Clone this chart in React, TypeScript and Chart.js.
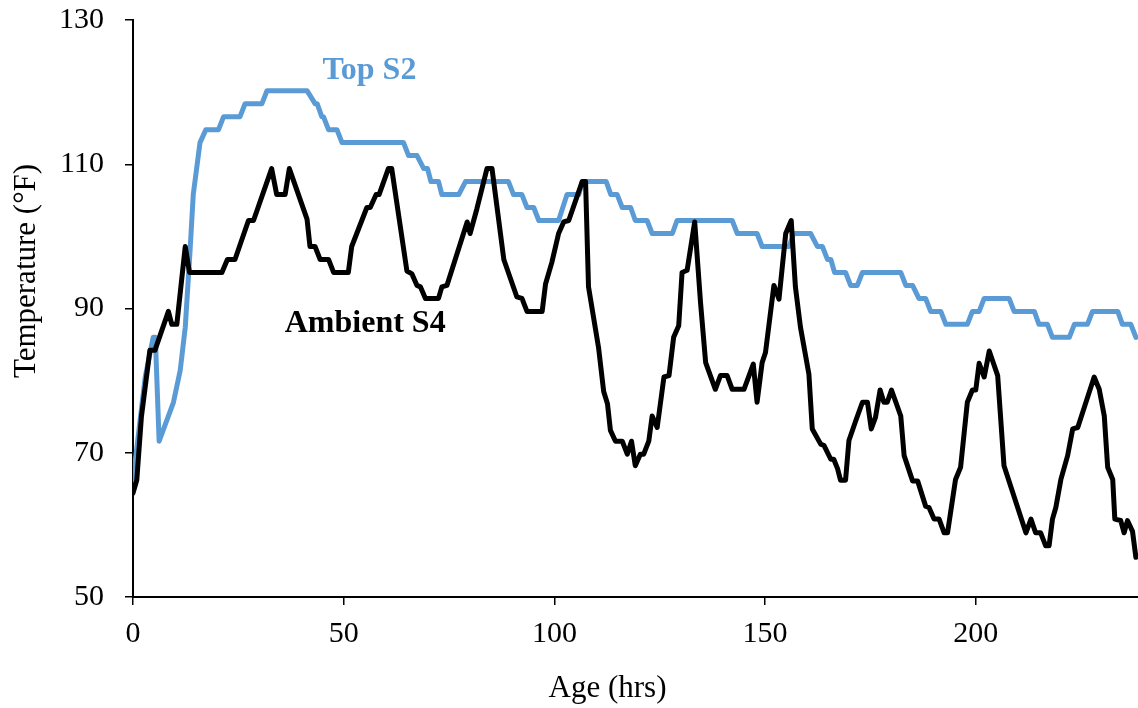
import React, { useEffect, useRef } from "react";
import { Chart, registerables } from "chart.js";

Chart.register(...registerables);

// ---- Data ----
const topAge = [
  0, 2.9, 4.8, 5.3, 6.2, 9.6, 11.2, 12.4, 13.5, 14.3, 15.9, 17.3, 20.3, 21.5, 25.4, 26.6, 30.6, 31.8,
  41.3, 43.2, 43.7, 44.8, 45.2, 46.4, 48.4, 49.6, 64.2, 65.4, 67.4, 69.0, 69.9, 70.7, 72.5, 73.3,
  77.3, 78.9, 89.1, 90.3, 92.3, 93.5, 95.1, 96.3, 101.0, 103.0, 105.8, 106.6, 112.3, 113.4, 114.9,
  116.1, 118.1, 119.2, 122.0, 123.2, 128.0, 129.1, 142.2, 143.4, 148.1, 149.3, 155.7, 156.8, 160.8,
  162.4, 163.6, 164.8, 165.6, 166.5, 169.1, 170.3, 171.9, 173.1, 182.2, 183.4, 185.0, 186.5, 188.1,
  189.3, 191.7, 192.9, 198.0, 199.2, 200.8, 202.0, 207.9, 209.1, 213.9, 215.0, 217.0, 218.2, 222.2,
  223.4, 226.5, 227.7, 233.7, 234.8, 236.8, 238.0,
];
const topTemp = [
  66.2, 80.5, 86.0, 86.0, 71.6, 77.0, 81.4, 87.4, 97.6, 105.8, 113.0, 114.8, 114.8, 116.6, 116.6, 118.4, 118.4, 120.2,
  120.2, 118.4, 118.4, 116.6, 116.6, 114.8, 114.8, 113.0, 113.0, 111.2, 111.2, 109.4, 109.4, 107.6, 107.6, 105.8,
  105.8, 107.6, 107.6, 105.8, 105.8, 104.0, 104.0, 102.2, 102.2, 105.8, 105.8, 107.6, 107.6, 105.8, 105.8,
  104.0, 104.0, 102.2, 102.2, 100.4, 100.4, 102.2, 102.2, 100.4, 100.4, 98.6, 98.6, 100.4, 100.4,
  98.6, 98.6, 96.8, 96.8, 95.0, 95.0, 93.2, 93.2, 95.0, 95.0, 93.2, 93.2, 91.4, 91.4,
  89.6, 89.6, 87.8, 87.8, 89.6, 89.6, 91.4, 91.4, 89.6, 89.6, 87.8, 87.8, 86.0, 86.0,
  87.8, 87.8, 89.6, 89.6, 87.8, 87.8, 86.0,
];

const ambientAge = [
  0, 0.9, 2.0, 4.0, 5.2, 8.4, 9.2, 10.4, 12.4, 13.4, 21.1, 22.4, 24.2, 27.4, 28.6, 32.9, 34.1, 36.1,
  37.1, 41.3, 42.0, 43.2, 44.4, 46.4, 47.6, 51.1, 51.9, 55.5, 56.3, 57.7, 58.4, 60.6, 61.4, 65.0,
  66.2, 67.4, 68.2, 69.4, 72.5, 73.3, 74.5, 79.3, 80.0, 81.6, 84.0, 85.2, 88.0, 91.1, 92.3, 93.5,
  97.1, 97.9, 99.4, 101.0, 102.2, 103.4, 106.6, 107.4, 108.1, 110.5, 111.7, 112.6, 113.3, 114.5,
  116.1, 117.3, 118.3, 119.2, 120.4, 121.2, 122.4, 123.2, 124.4, 126.0, 127.2, 128.3, 129.5, 130.3,
  131.5, 133.3, 134.7, 135.9, 138.2, 139.4, 141.0, 142.2, 145.0, 147.2, 148.1, 149.3, 150.1, 152.1,
  153.3, 154.9, 156.2, 157.2, 158.4, 160.4, 161.2, 163.2, 164.0, 165.6, 166.3, 167.2, 167.9, 169.1,
  169.9, 171.5, 173.1, 174.3, 175.2, 176.2, 177.3, 178.2, 179.0, 180.0, 182.2, 183.0, 185.0, 186.2,
  188.1, 188.9, 190.1, 191.3, 192.5, 193.3, 195.2, 196.4, 198.0, 199.2, 200.0, 200.8, 202.0, 203.2,
  205.2, 206.7, 211.9, 213.1, 214.2, 215.4, 216.6, 217.4, 218.2, 219.0, 220.2, 221.8, 223.0, 224.2,
  228.1, 229.3, 230.5, 231.3, 232.5, 233.0, 234.4, 235.2, 236.0, 237.2, 238.0,
];
const ambientTemp = [
  64.4, 66.2, 75.0, 84.2, 84.2, 89.6, 87.8, 87.8, 98.6, 95.0, 95.0, 96.8, 96.8, 102.2, 102.2, 109.4, 105.8, 105.8,
  109.4, 102.4, 98.6, 98.6, 96.8, 96.8, 95.0, 95.0, 98.6, 104.0, 104.0, 105.8, 105.8, 109.4, 109.4, 95.2,
  94.8, 93.2, 93.0, 91.4, 91.4, 93.0, 93.2, 102.0, 100.4, 103.8, 109.4, 109.4, 96.8, 91.6, 91.4, 89.6,
  89.6, 93.4, 96.4, 100.4, 102.0, 102.2, 107.6, 107.6, 93.0, 84.5, 78.5, 76.8, 73.1, 71.6,
  71.6, 69.8, 71.6, 68.2, 69.8, 69.8, 71.6, 75.1, 73.5, 80.5, 80.7, 86.0, 87.6, 95.0,
  95.3, 102.0, 90.7, 82.5, 78.8, 80.7, 80.7, 78.8, 78.8, 82.3, 77.0, 82.5, 83.9, 93.2,
  91.3, 100.4, 102.2, 93.0, 87.4, 80.9, 73.3, 71.2, 71.0, 69.1, 69.1, 67.8, 66.2, 66.2,
  71.7, 74.4, 77.0, 77.0, 73.3, 74.9, 78.7, 77.0, 77.0, 78.7, 75.1, 69.6, 66.1, 66.1,
  62.6, 62.4, 60.8, 60.8, 58.9, 58.9, 66.3, 68.0, 77.0, 78.7, 78.7, 82.4, 80.5, 84.1,
  80.7, 68.2, 58.9, 60.8, 58.9, 58.9, 57.1, 57.1, 60.8, 62.4, 66.3, 69.6, 73.3, 73.5,
  80.5, 78.8, 75.1, 68.0, 66.3, 60.8, 60.6, 58.9, 60.6, 59.1, 55.5,
];

const xTickValues = [0, 50, 100, 150, 200];
const yTickValues = [50, 70, 90, 110, 130];
const seriesNames = ["Ambient S4", "Top S2"];
const xTitle = "Age (hrs)";
const yTitle = "Temperature (\u00B0F)";

const SERIF = "'Liberation Serif', 'Times New Roman', serif";

const textPlugin = {
  id: "textPlugin",
  afterDraw(chart: any) {
    const ctx = chart.ctx as CanvasRenderingContext2D;
    const xs = chart.scales.x;
    const ys = chart.scales.y;
    ctx.save();
    // series labels placed at data coordinates
    ctx.textAlign = "center";
    ctx.textBaseline = "alphabetic";
    ctx.font = `bold 32px ${SERIF}`;
    ctx.fillStyle = "#5B9BD5";
    ctx.fillText(seriesNames[1], xs.getPixelForValue(56.1), ys.getPixelForValue(121.8));
    ctx.fillStyle = "#000000";
    ctx.fillText(seriesNames[0], xs.getPixelForValue(55.1), ys.getPixelForValue(86.8));
    // axis titles
    ctx.font = `31px ${SERIF}`;
    ctx.fillStyle = "#000000";
    ctx.fillText(xTitle, 607.5, 697);
    ctx.translate(35, 271);
    ctx.rotate(-Math.PI / 2);
    ctx.fillText(yTitle, 0, 0);
    ctx.restore();
  },
};

export default function App() {
  const ref = useRef<HTMLCanvasElement | null>(null);

  useEffect(() => {
    document.body.style.margin = "0";
    const canvas = ref.current;
    if (!canvas) return;
    const tickFont = { family: SERIF, size: 30 };
    const chart = new Chart(canvas, {
      type: "line",
      data: {
        datasets: [
          {
            label: seriesNames[0],
            data: ambientAge.map((a, i) => ({ x: a, y: ambientTemp[i] })),
            borderColor: "#000000",
            backgroundColor: "#000000",
            borderWidth: 5,
            pointRadius: 0,
            tension: 0,
            borderJoinStyle: "round",
            borderCapStyle: "round",
            order: 0,
          },
          {
            label: seriesNames[1],
            data: topAge.map((a, i) => ({ x: a, y: topTemp[i] })),
            borderColor: "#5B9BD5",
            backgroundColor: "#5B9BD5",
            borderWidth: 5,
            pointRadius: 0,
            tension: 0,
            borderJoinStyle: "round",
            borderCapStyle: "round",
            order: 1,
          },
        ],
      },
      options: {
        animation: false,
        responsive: false,
        maintainAspectRatio: false,
        layout: { padding: { top: 20, right: 0, left: 0, bottom: 0 } },
        plugins: { legend: { display: false }, tooltip: { enabled: false }, title: { display: false } },
        scales: {
          x: {
            type: "linear",
            min: 0,
            max: 238.5,
            afterFit: (s: any) => {
              s.height = 111;
              s.paddingLeft = 0;
              s.paddingRight = 0;
            },
            afterBuildTicks: (s: any) => {
              s.ticks = xTickValues.map((v) => ({ value: v }));
            },
            ticks: { font: tickFont, color: "#000000", padding: 11, maxRotation: 0, autoSkip: false },
            grid: { drawOnChartArea: false, drawTicks: true, tickLength: 8, color: "#000000", lineWidth: 1.5 },
            border: { display: true, color: "#000000", width: 2 },
          },
          y: {
            type: "linear",
            min: 50,
            max: 130,
            afterFit: (s: any) => {
              s.width = 133;
              s.paddingTop = 0;
              s.paddingBottom = 0;
            },
            afterBuildTicks: (s: any) => {
              s.ticks = yTickValues.map((v) => ({ value: v }));
            },
            ticks: { font: tickFont, color: "#000000", padding: 21, autoSkip: false },
            grid: { drawOnChartArea: false, drawTicks: true, tickLength: 8, color: "#000000", lineWidth: 1.5 },
            border: { display: true, color: "#000000", width: 2 },
          },
        },
      },
      plugins: [textPlugin],
    });
    return () => chart.destroy();
  }, []);

  return (
    <div style={{ width: 1138, height: 708, background: "#ffffff" }}>
      <canvas ref={ref} width={1138} height={708} style={{ display: "block" }} />
    </div>
  );
}
